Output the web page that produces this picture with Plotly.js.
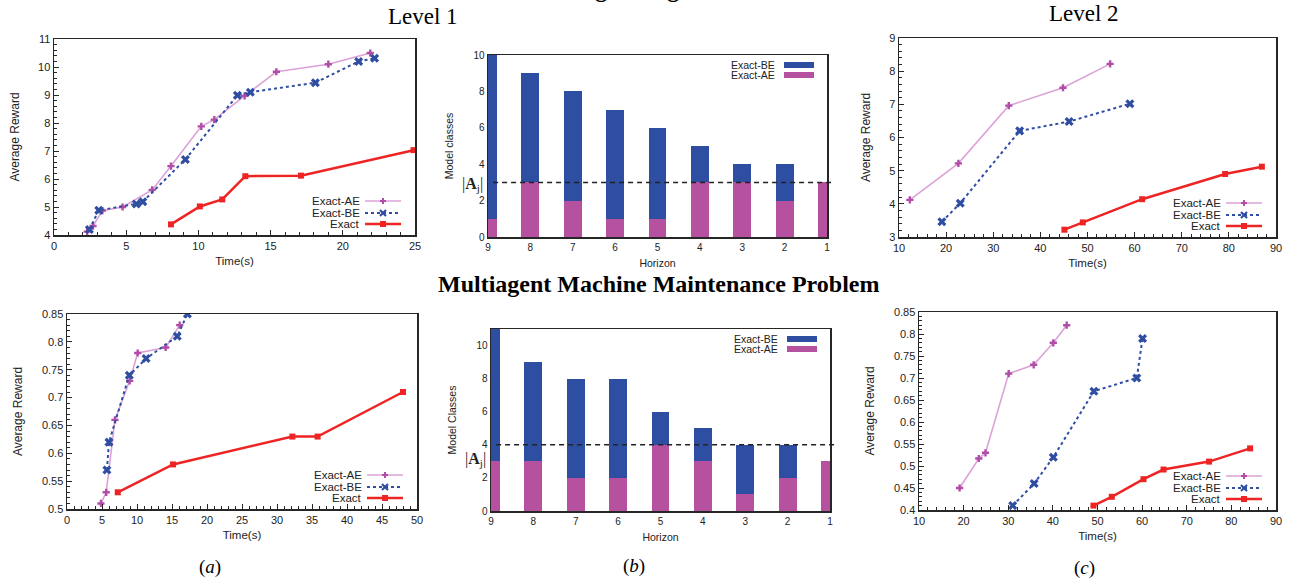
<!DOCTYPE html>
<html>
<head>
<meta charset="utf-8">
<script src="https://cdn.plot.ly/plotly-3.0.1.min.js"></script>
<style>html,body{margin:0;padding:0;background:#fff;}#chart{width:1294px;height:581px;}</style>
</head>
<body>
<div id="chart"></div>
<script>
// ---------------- DATA ----------------
// Multiagent Tiger Problem, Level 1
const tigerL1TimeAE   = [2.3, 2.7, 3.35, 4.75, 6.8, 8.1, 10.2, 11.1, 13.2, 15.4, 19.0, 21.9];
const tigerL1RewardAE = [4.12, 4.32, 4.87, 5.0, 5.61, 6.46, 7.88, 8.12, 8.97, 9.83, 10.1, 10.5];
const tigerL1TimeBE   = [2.45, 3.1, 5.7, 6.15, 9.1, 12.7, 13.6, 18.1, 21.1, 22.2];
const tigerL1RewardBE = [4.2, 4.88, 5.11, 5.19, 6.7, 8.99, 9.1, 9.44, 10.2, 10.31];
const tigerL1TimeEx   = [8.1, 10.1, 11.65, 13.25, 17.1, 24.9];
const tigerL1RewardEx = [4.38, 5.02, 5.27, 6.1, 6.12, 7.03];
// Multiagent Tiger Problem, Level 2
const tigerL2TimeAE   = [12.3, 22.6, 33.3, 44.8, 54.8];
const tigerL2RewardAE = [4.12, 5.22, 6.96, 7.5, 8.22];
const tigerL2TimeBE   = [19.1, 23.0, 35.6, 46.1, 59.0];
const tigerL2RewardBE = [3.46, 4.02, 6.2, 6.48, 7.02];
const tigerL2TimeEx   = [45.1, 49.0, 61.6, 79.2, 87.0];
const tigerL2RewardEx = [3.22, 3.44, 4.14, 4.9, 5.12];
// Multiagent Machine Maintenance, Level 1
const mmmL1TimeAE   = [4.85, 5.6, 6.85, 8.95, 10.1, 14.1, 16.1];
const mmmL1RewardAE = [0.51, 0.53, 0.66, 0.73, 0.78, 0.79, 0.83];
const mmmL1TimeBE   = [5.7, 6.0, 8.9, 11.3, 15.75, 17.2];
const mmmL1RewardBE = [0.57, 0.62, 0.74, 0.77, 0.81, 0.85];
const mmmL1TimeEx   = [7.25, 15.15, 32.2, 35.8, 48.0];
const mmmL1RewardEx = [0.53, 0.58, 0.63, 0.63, 0.71];
// Multiagent Machine Maintenance, Level 2
const mmmL2TimeAE   = [19.1, 23.4, 24.9, 30.1, 35.7, 40.1, 43.1];
const mmmL2RewardAE = [0.45, 0.517, 0.53, 0.71, 0.73, 0.78, 0.82];
const mmmL2TimeBE   = [31.0, 35.8, 40.1, 49.2, 58.8, 60.1];
const mmmL2RewardBE = [0.41, 0.46, 0.52, 0.67, 0.70, 0.79];
const mmmL2TimeEx   = [49.1, 53.2, 60.3, 64.8, 75.0, 84.2];
const mmmL2RewardEx = [0.41, 0.43, 0.47, 0.492, 0.51, 0.54];
// Model classes per horizon
const horizon      = [9, 8, 7, 6, 5, 4, 3, 2, 1];
const tigerClassBE = [10, 9, 8, 7, 6, 5, 4, 4, 3];
const tigerClassAE = [1, 3, 2, 1, 1, 3, 3, 2, 3];
const mmmClassBE   = [11, 9, 8, 8, 6, 5, 4, 4, 3];
const mmmClassAE   = [3, 3, 2, 2, 4, 3, 1, 2, 3];
const tigerActions = 3;   // |A_j|
const mmmActions   = 4;   // |A_j|
const seriesNames  = ['Exact-AE', 'Exact-BE', 'Exact'];
const barNames     = ['Exact-BE', 'Exact-AE'];

// ---------------- STYLE / LAYOUT ----------------
const W = 1294, H = 581;
const fx = px => px / W;
const fy = py => 1 - py / H;
const SANS = 'Liberation Sans, Arial, sans-serif';
const SERIF = 'Liberation Serif, Times New Roman, serif';
const C_AE_LINE = '#dca2d7', C_AE_MK = '#b14ca8';
const C_BE = '#2f4ea2', C_EX = '#ee2424';
const C_BAR_BE = '#2e4ea2', C_BAR_AE = '#b5519f';
const AX = '#262626';

// plot boxes in pixels
const B = {
  p1: {l: 54,  r: 415,  t: 39,  b: 235},
  p2: {l: 488, r: 827,  t: 55,  b: 237},
  p3: {l: 899, r: 1276, t: 38,  b: 237},
  p4: {l: 67,  r: 417,  t: 314, b: 509},
  p5: {l: 491, r: 830,  t: 329, b: 511},
  p6: {l: 919, r: 1276, t: 312, b: 510}
};

function lineX(box, range, dtick, minor, title, anchor) {
  return {
    domain: [fx(box.l), fx(box.r)], range: range, autorange: false, anchor: anchor,
    tick0: 0, dtick: dtick, ticks: 'inside', ticklen: 5, tickwidth: 1, tickcolor: AX,
    minor: {ticks: 'inside', ticklen: 3, tickwidth: 1, tickcolor: AX, dtick: minor, showgrid: false},
    showline: true, linecolor: AX, linewidth: 1.5, mirror: true,
    showgrid: false, zeroline: false, automargin: false,
    tickfont: {family: SANS, size: 11, color: '#222'},
    title: {text: title, font: {family: SANS, size: 11.5, color: '#222'}, standoff: 6}
  };
}
function lineY(box, range, tick0, dtick, minor, title, anchor) {
  return {
    domain: [fy(box.b), fy(box.t)], range: range, autorange: false, anchor: anchor,
    tick0: tick0, dtick: dtick, ticks: 'inside', ticklen: 5, tickwidth: 1, tickcolor: AX,
    minor: {ticks: 'inside', ticklen: 3, tickwidth: 1, tickcolor: AX, dtick: minor, showgrid: false},
    showline: true, linecolor: AX, linewidth: 1.5, mirror: true,
    showgrid: false, zeroline: false, automargin: false,
    tickfont: {family: SANS, size: 11, color: '#222'},
    title: {text: title, font: {family: SANS, size: 12, color: '#222'}, standoff: 16}
  };
}
function barX(box, anchor) {
  return {
    domain: [fx(box.l), fx(box.r)], range: [9, 1], autorange: false, anchor: anchor,
    tickmode: 'array', tickvals: horizon, ticktext: horizon.map(String), ticks: '',
    showline: true, linecolor: AX, linewidth: 1.5, mirror: true,
    showgrid: false, zeroline: false, automargin: false,
    tickfont: {family: SANS, size: 10, color: '#222'},
    title: {text: 'Horizon', font: {family: SANS, size: 10.5, color: '#222'}, standoff: 8}
  };
}
function barY(box, range, title, anchor) {
  return {
    domain: [fy(box.b), fy(box.t)], range: range, autorange: false, anchor: anchor,
    tick0: 0, dtick: 2, ticks: '',
    showline: true, linecolor: AX, linewidth: 1.5, mirror: true,
    showgrid: false, zeroline: false, automargin: false,
    tickfont: {family: SANS, size: 10, color: '#222'},
    title: {text: title, font: {family: SANS, size: 10.5, color: '#222'}, standoff: 17}
  };
}

function lineTraces(xa, ya, tAE, rAE, tBE, rBE, tEx, rEx) {
  return [
    {type: 'scatter', mode: 'lines+markers', x: tAE, y: rAE, xaxis: xa, yaxis: ya, name: seriesNames[0],
     line: {color: C_AE_LINE, width: 1.6}, marker: {symbol: 'cross', size: 6, color: C_AE_MK}},
    {type: 'scatter', mode: 'lines+markers', x: tBE, y: rBE, xaxis: xa, yaxis: ya, name: seriesNames[1],
     line: {color: C_BE, width: 2, dash: 'dot'}, marker: {symbol: 'x', size: 8, color: C_BE}},
    {type: 'scatter', mode: 'lines+markers', x: tEx, y: rEx, xaxis: xa, yaxis: ya, name: seriesNames[2],
     line: {color: C_EX, width: 2.5}, marker: {symbol: 'square', size: 6, color: C_EX}}
  ];
}
function barTraces(xa, ya, be, ae) {
  return [
    {type: 'bar', x: horizon, y: be, xaxis: xa, yaxis: ya, name: barNames[0], width: 0.42,
     marker: {color: C_BAR_BE, line: {width: 0}}},
    {type: 'bar', x: horizon, y: ae, xaxis: xa, yaxis: ya, name: barNames[1], width: 0.42,
     marker: {color: C_BAR_AE, line: {width: 0}}}
  ];
}

const data = [].concat(
  lineTraces('x', 'y', tigerL1TimeAE, tigerL1RewardAE, tigerL1TimeBE, tigerL1RewardBE, tigerL1TimeEx, tigerL1RewardEx),
  barTraces('x2', 'y2', tigerClassBE, tigerClassAE),
  lineTraces('x3', 'y3', tigerL2TimeAE, tigerL2RewardAE, tigerL2TimeBE, tigerL2RewardBE, tigerL2TimeEx, tigerL2RewardEx),
  lineTraces('x4', 'y4', mmmL1TimeAE, mmmL1RewardAE, mmmL1TimeBE, mmmL1RewardBE, mmmL1TimeEx, mmmL1RewardEx),
  barTraces('x5', 'y5', mmmClassBE, mmmClassAE),
  lineTraces('x6', 'y6', mmmL2TimeAE, mmmL2RewardAE, mmmL2TimeBE, mmmL2RewardBE, mmmL2TimeEx, mmmL2RewardEx)
);

const shapes = [];
const annotations = [];

function txt(text, px, py, opts) {
  annotations.push(Object.assign({
    text: text, xref: 'paper', yref: 'paper', x: fx(px), y: fy(py),
    showarrow: false, xanchor: 'center', yanchor: 'middle',
    font: {family: SANS, size: 11.5, color: '#222'}
  }, opts || {}));
}
function seg(x0, y0, x1, y1, color, width, dash) {
  shapes.push({type: 'line', xref: 'paper', yref: 'paper', x0: fx(x0), y0: fy(y0), x1: fx(x1), y1: fy(y1),
    line: {color: color, width: width, dash: dash || 'solid'}});
}

function lineLegend(box) {
  const rows = [box.b - 34, box.b - 22, box.b - 11];
  const tx = box.r - 53, l0 = box.r - 50, l1 = box.r - 14, mx = box.r - 32;
  // AE
  txt(seriesNames[0], tx, rows[0], {xanchor: 'right'});
  seg(l0, rows[0], l1, rows[0], C_AE_LINE, 1.6);
  seg(mx - 3, rows[0], mx + 3, rows[0], C_AE_MK, 2);
  seg(mx, rows[0] - 3, mx, rows[0] + 3, C_AE_MK, 2);
  // BE
  txt(seriesNames[1], tx, rows[1], {xanchor: 'right'});
  seg(l0, rows[1], l1, rows[1], C_BE, 2, 'dot');
  seg(mx - 3, rows[1] - 3, mx + 3, rows[1] + 3, C_BE, 2.2);
  seg(mx - 3, rows[1] + 3, mx + 3, rows[1] - 3, C_BE, 2.2);
  // Exact
  txt(seriesNames[2], tx, rows[2], {xanchor: 'right'});
  seg(l0, rows[2], l1, rows[2], C_EX, 2.5);
  shapes.push({type: 'rect', xref: 'paper', yref: 'paper',
    x0: fx(mx - 3), x1: fx(mx + 3), y0: fy(rows[2] + 3), y1: fy(rows[2] - 3),
    fillcolor: C_EX, line: {width: 0}});
}
function barLegend(box) {
  const rows = [box.t + 10, box.t + 20];
  const tx = box.r - 50, r0 = box.r - 43, r1 = box.r - 13;
  const cols = [C_BAR_BE, C_BAR_AE];
  rows.forEach((ry, i) => {
    txt(barNames[i], tx, ry, {xanchor: 'right', font: {family: SANS, size: 10.5, color: '#222'}});
    shapes.push({type: 'rect', xref: 'paper', yref: 'paper',
      x0: fx(r0), x1: fx(r1), y0: fy(ry + 3), y1: fy(ry - 3), fillcolor: cols[i], line: {width: 0}});
  });
}
function actionLine(xa, ya, value, labelY) {
  shapes.push({type: 'line', xref: xa + ' domain', yref: ya, x0: 0.015, x1: 1.015, y0: value, y1: value,
    line: {color: '#222', width: 1.5, dash: '5px,4px'}});
  annotations.push({text: '|<b>A</b><sub>j</sub>|', xref: xa + ' domain', yref: ya, x: -0.01, y: labelY,
    xanchor: 'right', yanchor: 'middle', showarrow: false,
    font: {family: SERIF, size: 16, color: '#222'}});
}

lineLegend(B.p1); lineLegend(B.p3); lineLegend(B.p4); lineLegend(B.p6);
barLegend(B.p2); barLegend(B.p5);
actionLine('x2', 'y2', tigerActions, tigerActions - 0.1);
actionLine('x5', 'y5', mmmActions, mmmActions - 0.9);

// titles
txt('<b>Multiagent Tiger Problem</b>', 660, -11, {font: {family: SERIF, size: 24, color: '#000'}});
txt('Level 1', 423, 16, {font: {family: SERIF, size: 23, color: '#000'}});
txt('Level 2', 1084, 14, {font: {family: SERIF, size: 23, color: '#000'}});
txt('<b>Multiagent Machine Maintenance Problem</b>', 659, 284, {font: {family: SERIF, size: 24, color: '#000'}});
txt('(<i>a</i>)', 210, 567, {font: {family: SERIF, size: 19, color: '#000'}});
txt('(<i>b</i>)', 634, 566, {font: {family: SERIF, size: 19, color: '#000'}});
txt('(<i>c</i>)', 1084, 568, {font: {family: SERIF, size: 19, color: '#000'}});

const layout = {
  width: W, height: H, margin: {l: 0, r: 0, t: 0, b: 0},
  paper_bgcolor: '#fff', plot_bgcolor: '#fff',
  showlegend: false, barmode: 'overlay', bargap: 0,
  xaxis:  lineX(B.p1, [0, 25], 5, 1, 'Time(s)', 'y'),
  yaxis:  lineY(B.p1, [4, 11], 0, 1, 0.2, 'Average Reward', 'x'),
  xaxis2: barX(B.p2, 'y2'),
  yaxis2: barY(B.p2, [0, 10], 'Model classes', 'x2'),
  xaxis3: lineX(B.p3, [10, 90], 10, 2, 'Time(s)', 'y3'),
  yaxis3: lineY(B.p3, [3, 9], 0, 1, 0.2, 'Average Reward', 'x3'),
  xaxis4: lineX(B.p4, [0, 50], 5, 1, 'Time(s)', 'y4'),
  yaxis4: lineY(B.p4, [0.5, 0.85], 0.5, 0.05, 0.01, 'Average Reward', 'x4'),
  xaxis5: barX(B.p5, 'y5'),
  yaxis5: barY(B.p5, [0, 11], 'Model Classes', 'x5'),
  xaxis6: lineX(B.p6, [10, 90], 10, 2, 'Time(s)', 'y6'),
  yaxis6: lineY(B.p6, [0.4, 0.85], 0.4, 0.05, 0.01, 'Average Reward', 'x6'),
  shapes: shapes, annotations: annotations, hovermode: false
};

Plotly.newPlot('chart', data, layout, {staticPlot: true, displayModeBar: false});
</script>
</body>
</html>
